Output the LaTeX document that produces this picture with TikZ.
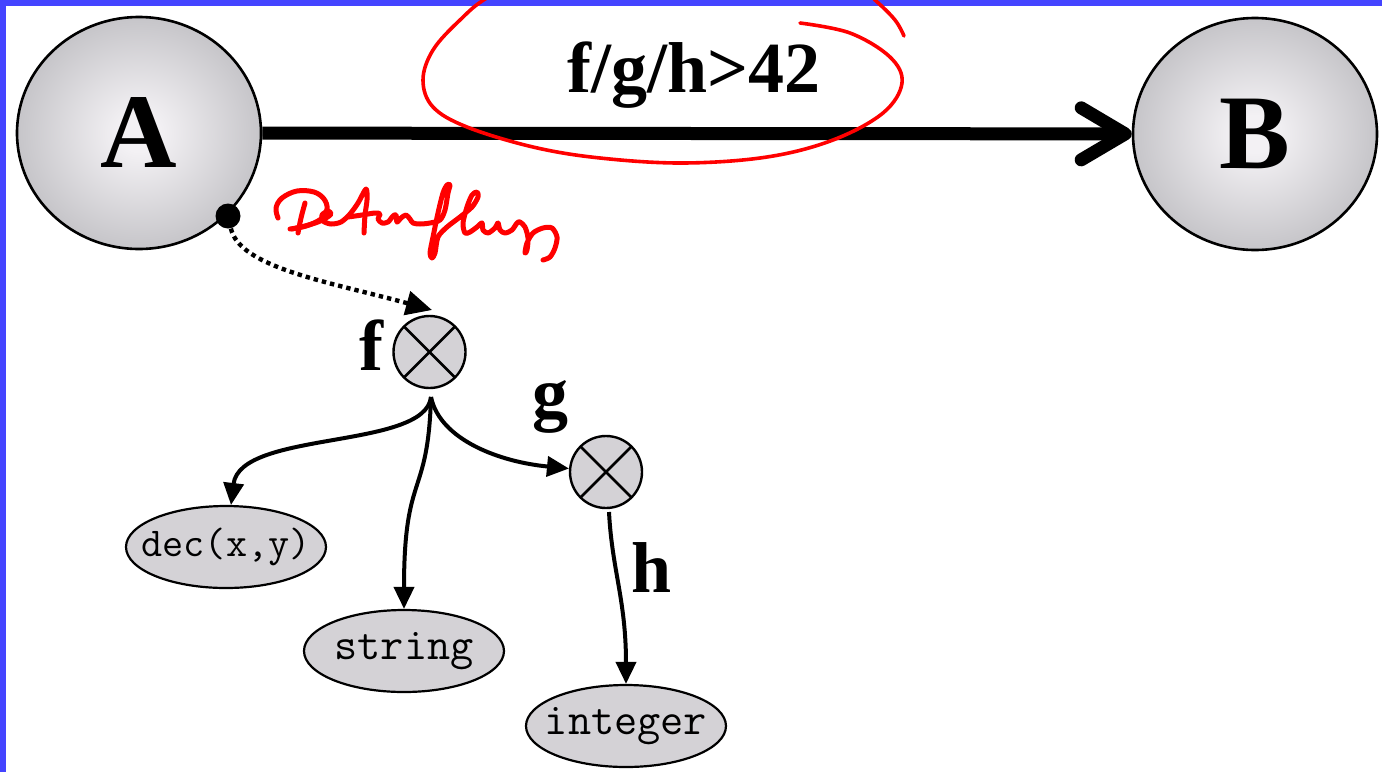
\documentclass[tikz,border=0pt]{standalone}
\usepackage{fontspec}
\setmainfont{Liberation Serif}
\usetikzlibrary{arrows.meta,shapes.geometric}
\definecolor{frameblue}{RGB}{68,68,255}
\definecolor{shadein}{RGB}{243,241,244}
\definecolor{shadeout}{RGB}{198,197,201}
\definecolor{smallfill}{RGB}{212,210,214}
\definecolor{inkred}{RGB}{255,0,0}
\pgfdeclareradialshading{bigshade}{\pgfpoint{0bp}{0bp}}{color(0bp)=(shadein); color(4bp)=(shadein); color(25bp)=(shadeout); color(50bp)=(shadeout)}
\tikzset{
  bignode/.style={ellipse, draw, line width=1.3pt, minimum width=122pt, minimum height=116pt, inner sep=0pt, shading=bigshade, font=\fontsize{53}{60}\selectfont\bfseries},
  opnode/.style={circle, draw, line width=1.2pt, fill=smallfill, minimum size=36pt, inner sep=0pt,
    path picture={\draw[line width=1.3pt] ([shift={(4pt,-4pt)}]path picture bounding box.north west) -- ([shift={(-4pt,4pt)}]path picture bounding box.south east)
      ([shift={(-4pt,-4pt)}]path picture bounding box.north east) -- ([shift={(4pt,4pt)}]path picture bounding box.south west);}},
  typenode/.style={ellipse, draw, line width=1.1pt, fill=smallfill, minimum width=100pt, minimum height=41pt, inner sep=0pt, font=\ttfamily\fontsize{22.5}{24}\selectfont},
  lbl/.style={font=\fontsize{36}{40}\selectfont\bfseries, inner sep=0pt, anchor=base},
  edgearrow/.style={line width=2pt, -{Triangle[length=11pt,width=10pt]}},
  mainarrow/.style={line width=6.5pt, -{Straight Barb[length=22pt,width=26pt,round]}},
  flowarrow/.style={line width=2.2pt, dash pattern=on 2.2pt off 2pt, -{Triangle[length=13pt,width=12pt]}},
  ink/.style={draw=inkred, line cap=round, line join=round},
}
\newcommand{\zw}[1]{\makebox[0pt][c]{#1}}
\begin{document}
\begin{tikzpicture}[x=0.5pt,y=-0.5pt]
\useasboundingbox (0,0) rectangle (1382,772);
\clip (0,0) rectangle (1382,772);
\fill[white] (0,0) rectangle (1382,772);
\fill[frameblue] (0,0) rectangle (1382,6);
\fill[frameblue] (0,0) rectangle (6,772);

% main nodes
\node[bignode] (A) at (139,133) {A};
\node[bignode] (B) at (1255,134) {B};
\draw[mainarrow] (A) -- (B);
\node[lbl] (cond) at (694,92) {f/g/h>42};

% operators and types
\node[opnode] (f) at (429.5,352) {};
\node[opnode] (g) at (606,472) {};
\node[lbl] (flbl) at (371,370) {f};
\node[lbl] (glbl) at (550,417) {g};
\node[lbl] (hlbl) at (652,592) {h};
\node[typenode, font=\ttfamily\fontsize{20.5}{22}\selectfont] (dec) at (226,547) {\zw{dec(x,y)}};
\node[typenode] (string) at (404,651) {\zw{string}};
\node[typenode] (integer) at (626,726) {\zw{integer}};

% data flow
\node[circle, fill=black, minimum size=12.5pt, inner sep=0pt] (dot) at (228,216) {};
\coordinate (fin) at (432,310);
\draw[flowarrow] (dot) .. controls (240,268) and (330,282) .. (fin);

\coordinate (fout) at (431,397);
\draw[edgearrow] (fout) .. controls (425,450) and (240,430) .. (dec);
\draw[edgearrow] (fout) .. controls (428,500) and (404,470) .. (string);
\draw[edgearrow] (fout) .. controls (440,440) and (500,462) .. (g);
\coordinate (gout) at (609,512);
\draw[edgearrow] (gout) .. controls (612,570) and (626,600) .. (integer);

% red annotations
\draw[ink, line width=1.8pt] plot[smooth, tension=0.6] coordinates {(800,23) (850,33) (890,57) (902,83) (883,113) (833,140) (767,157) (683,163) (600,158) (533,147) (467,127) (433,107) (423,80) (433,50) (460,20) (490,-4) (560,-40) (700,-55) (840,-30) (875,0) (895,20) (904,36)};
\begin{scope}[ink, line width=2.5pt]
\draw plot[smooth, tension=0.6] coordinates {(278,218) (276,208) (282,198) (297,191) (314,192) (324,199) (327,209) (321,219) (306,226) (290,229)};
\draw plot[smooth, tension=0.6] coordinates {(305,203) (301,218) (298,233)};
\draw plot[smooth, tension=0.5] coordinates {(292,229) (305,226) (318,222) (326,218) (331,214) (328,211) (322,215) (323,221) (331,224) (341,222) (350,214) (358,203) (366,189) (367,200) (365,215) (364,233)};
\draw plot[smooth, tension=0.5] coordinates {(348,217) (362,215) (375,213) (380,214) (378,219) (382,223) (388,222) (393,216) (396,215) (397,222) (401,218) (406,215) (410,219) (413,223) (420,224) (430,223) (440,220) (445,210) (448,193) (450,185) (447,185) (443,193) (438,213) (433,237) (430,253) (432,258) (435,253) (438,237) (447,227) (460,217) (472,207) (478,197) (477,192) (472,195) (467,207) (463,223) (465,233) (470,232) (477,227) (482,223) (483,230) (488,233) (495,228) (498,223) (500,230) (505,233) (512,230) (517,223) (520,222) (525,227) (528,238) (527,250) (525,253) (527,243) (533,233) (543,228) (552,228) (557,237) (555,248) (550,257) (543,260)};
\end{scope}
\end{tikzpicture}
\end{document}
